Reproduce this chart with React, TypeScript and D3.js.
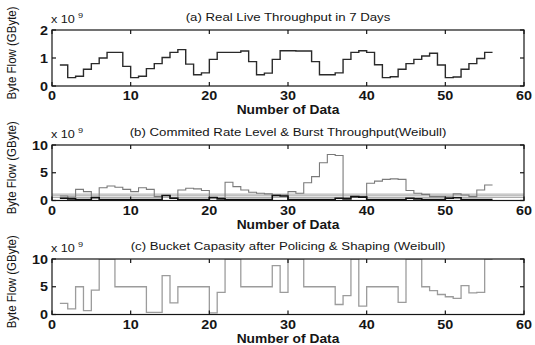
import React from 'react';
import * as d3 from 'd3';

const W = 535;
const H = 345;

// shared x axis: sample number
const xTicks = [0, 10, 20, 30, 40, 50, 60];

// (a) measured throughput, x 10^9 bytes, one value per sample (1..56)
const throughput = [
  0.75, 0.3, 0.35, 0.6, 0.8, 1.0, 1.2, 1.2,
  0.7, 0.3, 0.35, 0.62, 0.8, 1.02, 1.2, 1.3,
  0.78, 0.4, 0.47, 0.95, 1.2, 1.2, 1.2, 1.25,
  0.87, 0.4, 0.46, 0.95, 1.26, 1.26, 1.25, 1.25,
  0.87, 0.4, 0.4, 0.47, 0.95, 1.2, 1.26, 1.2,
  0.76, 0.3, 0.33, 0.6, 0.8, 0.95, 1.07, 1.17,
  0.75, 0.3, 0.32, 0.6, 0.8, 0.98, 1.2, 1.2,
];
const yTicksA = [0, 1, 2];

// (b) burst throughput, committed rate levels, conforming traffic
const burst = [
  0.8, 0.6, 2.0, 1.6, 0.6, 2.3, 2.6, 2.4,
  2.0, 1.6, 2.3, 2.0, 0.7, 0.9, 0.5, 1.9,
  2.2, 2.1, 1.8, 0.6, 0.5, 3.3, 2.5, 1.9,
  1.5, 1.3, 1.2, 1.0, 1.0, 1.6, 1.3, 3.2,
  4.3, 6.8, 8.3, 8.1, 0.5, 0.7, 0.7, 3.1,
  3.5, 3.8, 3.9, 3.8, 1.8, 1.3, 1.1, 0.7,
  0.7, 0.6, 1.2, 1.0, 0.7, 1.9, 2.8, 2.8,
];
const conforming = [
  0.4, 0.3, 0.15, 0.15, 0.5, 0.15, 0.15, 0.15,
  0.15, 0.15, 0.15, 0.15, 0.15, 0.9, 0.4, 0.15,
  0.15, 0.15, 0.15, 0.5, 0.3, 0.15, 0.15, 0.15,
  0.15, 0.15, 0.15, 0.9, 0.8, 0.15, 0.15, 0.15,
  0.15, 0.15, 0.15, 0.4, 0.3, 0.7, 0.6, 0.15,
  0.15, 0.15, 0.15, 0.15, 0.4, 0.3, 0.15, 0.15,
  0.15, 0.4, 0.5, 0.15, 0.15, 0.15, 0.15, 0.15,
];
const rateLevels = [0.55, 0.85, 1.15];
const yTicksBC = [0, 5, 10];

// (c) token bucket capacity after policing and shaping
const bucket = [
  2.0, 1.0, 5.0, 0.7, 4.4, 10, 10, 5.0,
  5.0, 5.0, 5.0, 0.4, 0.4, 7.0, 2.1, 5.0,
  5.0, 5.0, 5.0, 0.3, 4.0, 10, 10, 5.0,
  5.0, 5.0, 5.0, 8.8, 4.0, 10, 10, 5.0,
  5.0, 5.0, 5.0, 1.8, 3.4, 10, 1.5, 5.0,
  5.0, 5.0, 5.0, 2.2, 10, 10, 5.0, 4.3,
  3.6, 3.2, 2.9, 5.2, 3.9, 4.0, 10, 10,
];

const FONT = "'Liberation Sans', Arial, Helvetica, sans-serif";
const INK = '#151515';
const SX = 1.15;

const x = d3.scaleLinear().domain([0, 60]).range([52, 524]);

type TxtProps = {
  x: number;
  y: number;
  anchor?: 'start' | 'middle' | 'end';
  size: number;
  weight?: string | number;
  rotate?: boolean;
  children: React.ReactNode;
};

function Txt({ x: tx, y: ty, anchor = 'middle', size, weight = 'normal', rotate, children }: TxtProps) {
  const t = rotate
    ? `translate(${tx},${ty}) scale(${SX},1) rotate(-90)`
    : `translate(${tx},${ty}) scale(${SX},1)`;
  return (
    <text
      transform={t}
      textAnchor={anchor}
      fontSize={size}
      fontWeight={weight}
      fontFamily={FONT}
      fill={INK}
    >
      {children}
    </text>
  );
}

type Series = {
  values: number[];
  stroke: string;
  width: number;
};

type PanelProps = {
  id: string;
  top: number;
  bottom: number;
  yMax: number;
  yTicks: number[];
  title: string;
  series: Series[];
  levels?: number[];
};

function Panel({ id, top, bottom, yMax, yTicks, title, series, levels = [] }: PanelProps) {
  const y = d3.scaleLinear().domain([0, yMax]).range([bottom, top]);
  const [x0, x1] = x.range();
  const line = d3
    .line<number>()
    .x((_, i) => x(i + 1))
    .y((d) => y(d))
    .curve(d3.curveStepAfter);
  const tickLen = 4;
  const midY = (top + bottom) / 2;

  return (
    <g>
      <defs>
        <clipPath id={`clip-${id}`}>
          <rect x={x0} y={top} width={x1 - x0} height={bottom - top} />
        </clipPath>
      </defs>
      <rect x={x0} y={top} width={x1 - x0} height={bottom - top} fill="#fff" />

      <g clipPath={`url(#clip-${id})`}>
        {levels.map((lv, i) => (
          <line
            key={`lv${i}`}
            x1={x0}
            x2={x1}
            y1={y(lv)}
            y2={y(lv)}
            stroke="#a8a8a8"
            strokeWidth={1}
          />
        ))}
        {series.map((s, i) => (
          <path
            key={i}
            d={line(s.values) ?? ''}
            fill="none"
            stroke={s.stroke}
            strokeWidth={s.width}
          />
        ))}
      </g>

      {/* frame */}
      <rect
        x={x0}
        y={top}
        width={x1 - x0}
        height={bottom - top}
        fill="none"
        stroke={INK}
        strokeWidth={1.2}
      />

      {/* ticks pointing inward on all four sides */}
      {xTicks.map((t) => (
        <g key={`xt${t}`}>
          <line x1={x(t)} x2={x(t)} y1={bottom} y2={bottom - tickLen} stroke={INK} strokeWidth={1.2} />
          <line x1={x(t)} x2={x(t)} y1={top} y2={top + tickLen} stroke={INK} strokeWidth={1.2} />
          <Txt x={x(t)} y={bottom + 14} size={12.5} weight="bold">
            {t}
          </Txt>
        </g>
      ))}
      {yTicks.map((t) => (
        <g key={`yt${t}`}>
          <line x1={x0} x2={x0 + tickLen} y1={y(t)} y2={y(t)} stroke={INK} strokeWidth={1.2} />
          <line x1={x1} x2={x1 - tickLen} y1={y(t)} y2={y(t)} stroke={INK} strokeWidth={1.2} />
          <Txt x={x0 - 4} y={y(t) + 4.5} anchor="end" size={12.5} weight="bold">
            {t}
          </Txt>
        </g>
      ))}

      {/* exponent marker */}
      <Txt x={x0 - 1} y={top - 7} anchor="start" size={11}>
        x 10
      </Txt>
      <Txt x={x0 + 26} y={top - 12} anchor="start" size={8}>
        9
      </Txt>

      <Txt x={(x0 + x1) / 2} y={top - 9.5} size={11.5}>
        {title}
      </Txt>
      <Txt x={(x0 + x1) / 2} y={bottom + 28} size={12} weight="bold">
        Number of Data
      </Txt>
      <Txt x={16} y={midY - 5} size={11.5} rotate>
        Byte Flow (GByte)
      </Txt>
    </g>
  );
}

export default function App() {
  return (
    <svg
      width={W}
      height={H}
      viewBox={`0 0 ${W} ${H}`}
      style={{ position: 'absolute', left: 0, top: 0, background: '#fff' }}
    >
      <rect width={W} height={H} fill="#fff" />
      <Panel
        id="a"
        top={30}
        bottom={86}
        yMax={2}
        yTicks={yTicksA}
        title="(a) Real Live Throughput in 7 Days"
        series={[{ values: throughput, stroke: '#2a2a2a', width: 1.4 }]}
      />
      <Panel
        id="b"
        top={145}
        bottom={200.5}
        yMax={10}
        yTicks={yTicksBC}
        title="(b) Commited Rate Level & Burst Throughput(Weibull)"
        levels={rateLevels}
        series={[
          { values: burst, stroke: '#7a7a7a', width: 1.1 },
          { values: conforming, stroke: '#111', width: 1.6 },
        ]}
      />
      <Panel
        id="c"
        top={259}
        bottom={314.5}
        yMax={10}
        yTicks={yTicksBC}
        title="(c) Bucket Capasity after Policing & Shaping (Weibull)"
        series={[{ values: bucket, stroke: '#9c9c9c', width: 1.3 }]}
      />
    </svg>
  );
}
